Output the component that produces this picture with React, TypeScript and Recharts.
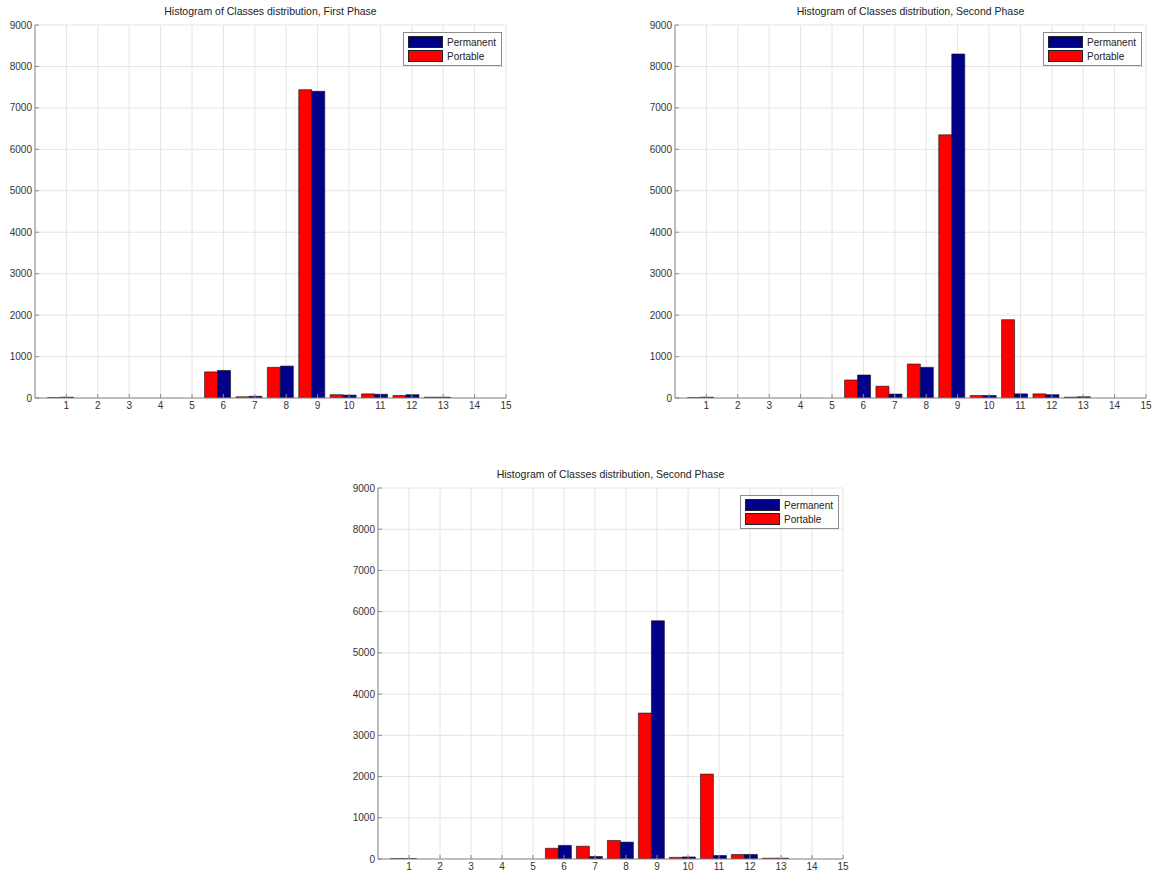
import React from 'react';
import { BarChart, Bar, XAxis, YAxis, CartesianGrid, Legend } from 'recharts';

// ---- data ----
const classes = [1, 2, 3, 4, 5, 6, 7, 8, 9, 10, 11, 12, 13];
const binOffset = 0.18; // bars sit slightly left of the integer ticks
const xTicks = [1, 2, 3, 4, 5, 6, 7, 8, 9, 10, 11, 12, 13, 14, 15];
const yTicks = [0, 1000, 2000, 3000, 4000, 5000, 6000, 7000, 8000, 9000];
const seriesNames = ['Permanent', 'Portable'];

const titles = [
  'Histogram of Classes distribution, First Phase',
  'Histogram of Classes distribution, Second Phase',
  'Histogram of Classes distribution, Second Phase',
];

const firstPermanent = [20, 0, 0, 0, 0, 665, 40, 770, 7400, 70, 90, 80, 20];
const firstPortable = [10, 0, 0, 0, 0, 630, 30, 740, 7440, 80, 100, 60, 20];
const secondPermanent = [20, 0, 0, 0, 0, 555, 95, 740, 8300, 60, 100, 80, 30];
const secondPortable = [10, 0, 0, 0, 0, 435, 285, 820, 6350, 60, 1890, 100, 20];
const thirdPermanent = [10, 0, 0, 0, 0, 330, 60, 410, 5780, 50, 85, 110, 20];
const thirdPortable = [10, 0, 0, 0, 0, 260, 310, 450, 3540, 40, 2060, 110, 20];

const RED = '#ff0000';
const BLUE = '#00008b';
const FONT = '"Liberation Sans", Arial, Helvetica, sans-serif';

const buildRows = (permanent: number[], portable: number[]) =>
  classes.map((c, i) => ({ x: c - binOffset, permanent: permanent[i], portable: portable[i] }));

const LegendBox = () => (
  <div
    style={{
      border: '1px solid #8c8c8c',
      background: '#fff',
      padding: '2px 5px 2px 4px',
      fontFamily: FONT,
      fontSize: 10,
      lineHeight: '13px',
      color: '#222',
      whiteSpace: 'nowrap',
    }}
  >
    {seriesNames.map((name, i) => (
      <div key={name} style={{ display: 'flex', alignItems: 'center', height: 14 }}>
        <span
          style={{
            display: 'inline-block',
            width: 33,
            height: 10,
            background: i === 0 ? BLUE : RED,
            border: '1px solid #222',
            marginRight: 4,
          }}
        />
        <span>{name}</span>
      </div>
    ))}
  </div>
);

type PanelProps = {
  title: string;
  permanent: number[];
  portable: number[];
  x0: number;
  x1: number;
  y0: number;
  y1: number;
};

const AXW = 40;
const TOP = 25;
const RIGHT = 16;
const XAH = 22;

const Panel = ({ title, permanent, portable, x0, x1, y0, y1 }: PanelProps) => {
  const rows = buildRows(permanent, portable);
  const width = x1 - x0 + AXW + RIGHT;
  const height = y1 - y0 + TOP + XAH;
  const tickStyle = { fontSize: 10, fill: '#333', fontFamily: FONT };
  return (
    <div style={{ position: 'absolute', left: x0 - AXW, top: y0 - TOP, width, height }}>
      <div
        style={{
          position: 'absolute',
          left: AXW,
          width: x1 - x0,
          top: 5,
          textAlign: 'center',
          fontFamily: FONT,
          fontSize: 10.5,
          color: '#222',
          whiteSpace: 'nowrap',
        }}
      >
        {title}
      </div>
      <BarChart
        width={width}
        height={height}
        data={rows}
        margin={{ top: TOP, right: RIGHT, left: 0, bottom: 0 }}
        barCategoryGap="8%"
        barGap={0}
      >
        <CartesianGrid stroke="#e4e4e4" strokeDasharray="" />
        <XAxis
          dataKey="x"
          type="number"
          domain={[0, 15]}
          ticks={xTicks}
          interval={0}
          allowDataOverflow
          height={XAH}
          tickSize={-4}
          tickMargin={8}
          tick={tickStyle}
          stroke="#8a8a8a"
          tickLine={{ stroke: '#8a8a8a' }}
        />
        <XAxis
          xAxisId="top"
          orientation="top"
          dataKey="x"
          type="number"
          domain={[0, 15]}
          ticks={xTicks}
          interval={0}
          allowDataOverflow
          height={0}
          tickSize={-4}
          tickFormatter={() => ''}
          stroke="#8a8a8a"
        />
        <YAxis
          domain={[0, 9000]}
          ticks={yTicks}
          interval={0}
          width={AXW}
          tickSize={-4}
          tickMargin={7}
          tick={tickStyle}
          stroke="#8a8a8a"
          allowDataOverflow
        />
        <YAxis
          yAxisId="right"
          orientation="right"
          domain={[0, 9000]}
          ticks={yTicks}
          interval={0}
          width={0}
          tickSize={-4}
          tickFormatter={() => ''}
          stroke="#8a8a8a"
          allowDataOverflow
        />
        <Legend
          content={() => <LegendBox />}
          layout="vertical"
          align="center"
          verticalAlign="middle"
          wrapperStyle={{ position: 'absolute', top: TOP + 7, right: RIGHT + 4, left: 'auto', width: 'auto', height: 'auto' }}
        />
        <Bar dataKey="portable" name={seriesNames[1]} fill={RED} stroke="#111" strokeWidth={0.6} isAnimationActive={false} />
        <Bar dataKey="permanent" name={seriesNames[0]} fill={BLUE} stroke="#111" strokeWidth={0.6} isAnimationActive={false} />
      </BarChart>
    </div>
  );
};

export default function App() {
  return (
    <div style={{ position: 'absolute', left: 0, top: 0, width: 1156, height: 875, background: '#fff' }}>
      <Panel title={titles[0]} permanent={firstPermanent} portable={firstPortable} x0={35} x1={506} y0={25} y1={398} />
      <Panel title={titles[1]} permanent={secondPermanent} portable={secondPortable} x0={675} x1={1146} y0={25} y1={398} />
      <Panel title={titles[2]} permanent={thirdPermanent} portable={thirdPortable} x0={378} x1={843} y0={488} y1={859} />
    </div>
  );
}
